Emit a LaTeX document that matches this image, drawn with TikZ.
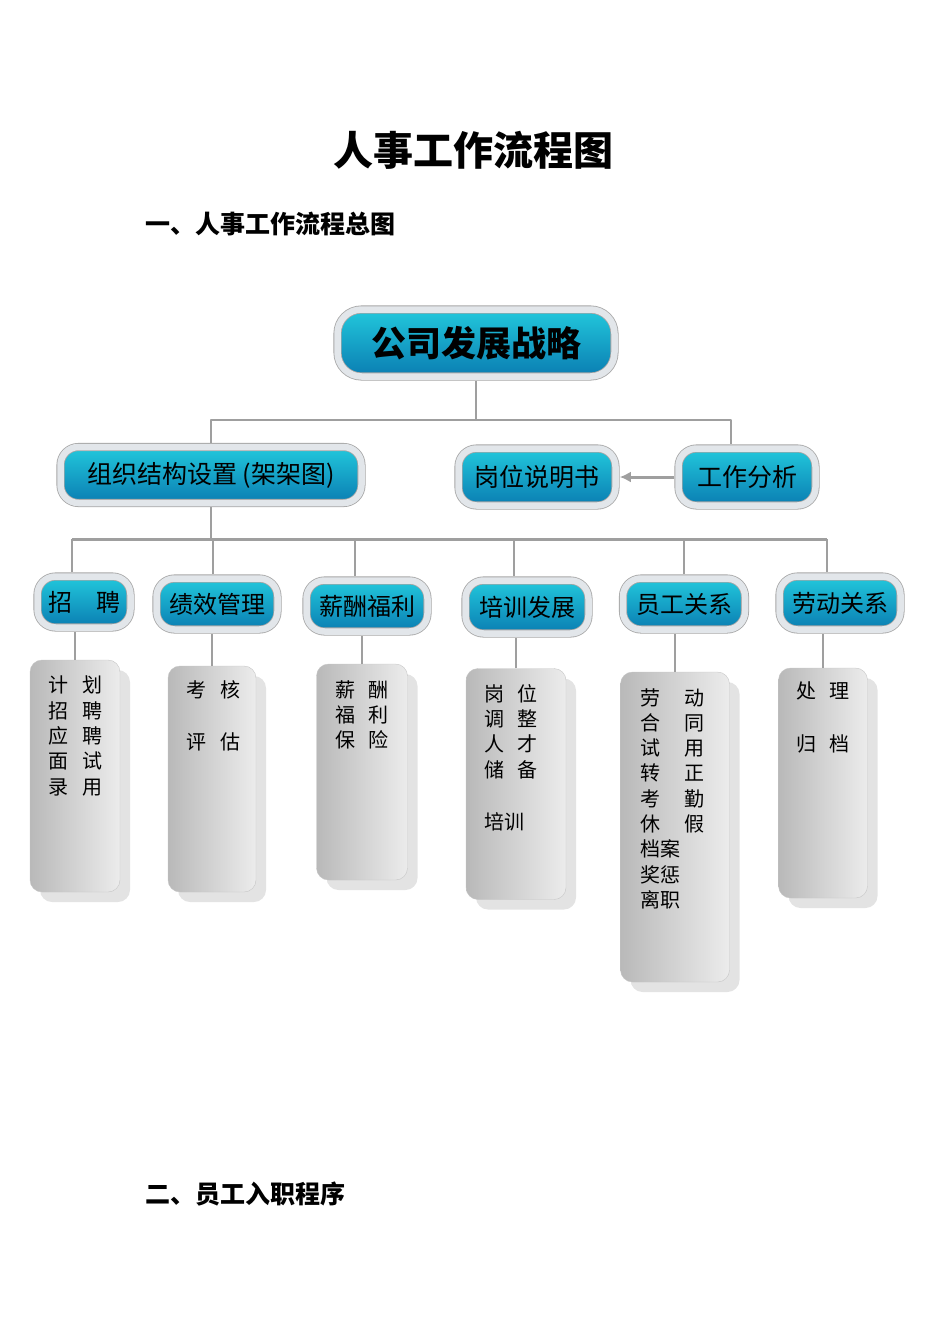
\documentclass[tikz,border=0pt]{standalone}
\usepackage{fontspec}
\setmainfont{Noto Sans CJK SC}
\usepackage[x11names, svgnames, rgb]{xcolor}
\usepackage{tikz}
\usetikzlibrary{arrows, arrows.meta, positioning, shadows, calc}
\definecolor{pilltop}{RGB}{34,200,220}
\definecolor{pillbot}{RGB}{10,125,178}
\definecolor{ringc}{RGB}{226,230,234}

\begin{document}
\begin{tikzpicture}[>={Latex[length=11pt,width=11pt]},line join=bevel,x=1pt,y=-1pt,
        pill/.style={rectangle, rounded corners=18pt, top color=pilltop, bottom color=pillbot,
            draw=gray!70, line width=.8pt, double=ringc, double distance=6.5pt,
            inner sep=0pt, outer sep=4.3pt, font=\fontsize{24}{28}\selectfont},
        listbox/.style={rectangle, rounded corners=12pt, draw=gray!45, left color=gray!55, right color=gray!15,
            inner sep=0pt, drop shadow={shadow xshift=10pt, shadow yshift=-10pt, fill=gray!22, opacity=1}},
        listtext/.style={anchor=north west, inner sep=0pt, align=left, font=\fontsize{20}{25.3}\selectfont},
        link/.style={draw=gray!75, line width=2.5pt},
        heading/.style={anchor=west, inner sep=0pt, font=\bfseries\fontsize{25}{30}\selectfont}]
    \useasboundingbox (0,0) rectangle (950,1344);

    \node[inner sep=0pt, font=\bfseries\fontsize{40}{46}\selectfont] (title) at (473,150) {人事工作流程图};
    \node[heading] (sec1) at (145,224) {一、人事工作流程总图};
    \node[heading] (sec2) at (145,1194) {二、员工入职程序};

    % strategy and second row
    \node[pill, minimum width=277pt, minimum height=67pt, rounded corners=24pt,
        font=\bfseries\fontsize{35}{40}\selectfont] (gs) at (476,343) {公司发展战略};
    \node[pill, minimum width=301pt, minimum height=56pt, font=\fontsize{25}{29}\selectfont] (zz) at (211,475) {组织结构设置 (架架图)};
    \node[pill, minimum width=157pt, minimum height=57pt, font=\fontsize{25}{29}\selectfont] (gw) at (537,477) {岗位说明书};
    \node[pill, minimum width=137pt, minimum height=57pt, font=\fontsize{25}{29}\selectfont] (gz) at (747,477) {工作分析};

    % functions
    \node[pill, minimum width=93pt, minimum height=51pt] (zp) at (84,602) {招\hspace{1em}聘};
    \node[pill, minimum width=121pt, minimum height=51pt] (jx) at (217,604) {绩效管理};
    \node[pill, minimum width=121pt, minimum height=51pt] (xc) at (367,606) {薪酬福利};
    \node[pill, minimum width=123pt, minimum height=53pt] (px) at (527,607) {培训发展};
    \node[pill, minimum width=122pt, minimum height=51pt] (yg) at (684,604) {员工关系};
    \node[pill, minimum width=121pt, minimum height=53pt] (ld) at (840,603) {劳动关系};

    % task lists
    \node[listbox, minimum width=90pt, minimum height=232pt] (zp-list) at (75,776) {};
    \node[listbox, minimum width=88pt, minimum height=226pt] (jx-list) at (212,779) {};
    \node[listbox, minimum width=91pt, minimum height=216pt] (xc-list) at (362,772) {};
    \node[listbox, minimum width=100pt, minimum height=231pt] (px-list) at (516,784) {};
    \node[listbox, minimum width=109pt, minimum height=310pt] (yg-list) at (675,827) {};
    \node[listbox, minimum width=89pt, minimum height=230pt] (ld-list) at (823,783) {};

    \node[listtext] (zp-text) at (48,676) {计\hspace{14pt}划\\招\hspace{14pt}聘\\应\hspace{14pt}聘\\面\hspace{14pt}试\\录\hspace{14pt}用};
    \node[listtext] (jx-text) at (186,680) {考\hspace{14pt}核\\[27pt]评\hspace{14pt}估};
    \node[listtext] (xc-text) at (335,680) {薪\hspace{13pt}酬\\福\hspace{13pt}利\\保\hspace{13pt}险};
    \node[listtext] (px-text) at (484,684) {岗\hspace{13pt}位\\调\hspace{13pt}整\\人\hspace{13pt}才\\储\hspace{13pt}备\\[27pt]培训};
    \node[listtext] (yg-text) at (640,688) {劳\hspace{24pt}动\\合\hspace{24pt}同\\试\hspace{24pt}用\\转\hspace{24pt}正\\考\hspace{24pt}勤\\休\hspace{24pt}假\\档案\\奖惩\\离职};
    \node[listtext] (ld-text) at (796,682) {处\hspace{13pt}理\\[27pt]归\hspace{13pt}档};

    % connectors
    \draw[link] (gs.south) -- ++(0,39) coordinate (bus1);
    \draw[link] (zz.north) |- (bus1) -| ([xshift=-16pt]gz.north);
    \draw[link, line width=3pt, ->] (gz.west) -- (gw.east);
    \draw[link] (zz.south) -- ++(0,32) coordinate (bus2);
    \draw[link] ([xshift=-12pt]zp.north |- bus2) -- ([xshift=-13pt]ld.north |- bus2);
    \foreach \n/\dx in {zp/-12,jx/-4,xc/-12,px/-13,yg/0,ld/-13}
        \draw[link] ([xshift=\dx pt]\n.north) -- ([xshift=\dx pt]\n.north |- bus2);
    \foreach \n in {zp,jx,xc,px,yg,ld}
        \draw[link] (\n-list.north) -- (\n-list.north |- \n.south);
\end{tikzpicture}
\end{document}
